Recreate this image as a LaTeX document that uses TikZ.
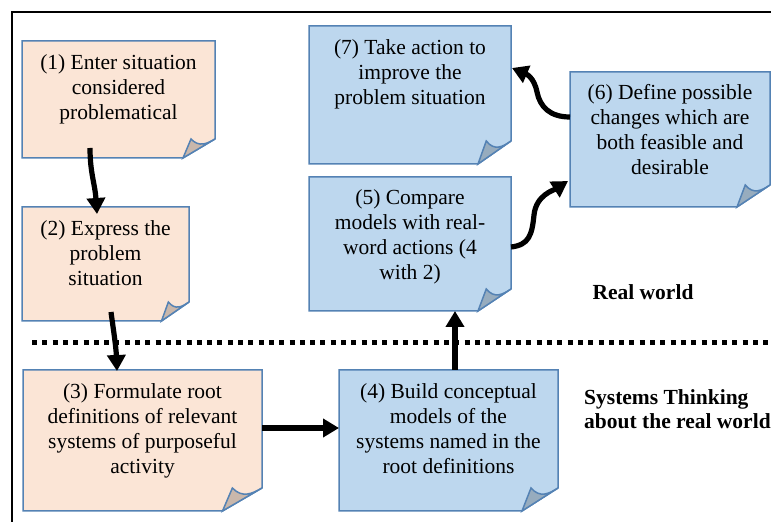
\documentclass[tikz,border=0pt]{standalone}
\usepackage{fontspec}
\setmainfont{Liberation Serif}
\usetikzlibrary{arrows.meta}

\definecolor{peach}{RGB}{251,229,214}
\definecolor{peachflap}{RGB}{201,183,171}
\definecolor{skyfill}{RGB}{189,215,238}
\definecolor{skyflap}{RGB}{151,172,190}
\definecolor{noteedge}{RGB}{84,130,180}

\tikzset{
  x=1pt, y=1pt,
  notearea/.style={inner sep=0pt, outer sep=0pt, minimum width=#1},
  noteline/.style={draw=noteedge, line width=1.5pt, line join=miter},
  notetext/.style={align=center, inner sep=0pt, anchor=north,
    font=\fontsize{21.5}{25}\selectfont},
  sidetext/.style={inner sep=0pt, font=\fontsize{21.5}{24}\selectfont\bfseries},
  flow/.style={line width=5.2pt, -{Triangle[width=18pt,length=16pt]}},
}

% sticky note with a folded bottom-right corner:
% #1 node, #2 fill, #3 flap fill, #4 fold width, #5 fold height
\newcommand\foldnote[5]{%
  \filldraw[noteline, fill=#2]
    (#1.north west) -- (#1.north east) -- ([yshift=#5]#1.south east)
    -- ([xshift=-#4]#1.south east) -- (#1.south west) -- cycle;
  \filldraw[noteline, fill=#3]
    ([xshift=-#4]#1.south east) -- ([shift={(-0.75*#4,#5)}]#1.south east)
    .. controls ([shift={(-0.5*#4,0.55*#5)}]#1.south east)
       and ([shift={(-0.25*#4,0.75*#5)}]#1.south east)
    .. ([yshift=#5]#1.south east) -- cycle;
}

\begin{document}
\begin{tikzpicture}
\useasboundingbox (0,0) rectangle (771,522);

% frame
\draw[line width=2pt] (12,0) -- (12,510) -- (771,510);

% note areas
\node[notearea=193pt, minimum height=117pt] (b1) at (118.5,422.5) {};
\node[notearea=167pt, minimum height=114pt] (b2) at (105.5,258) {};
\node[notearea=239pt, minimum height=141pt] (b3) at (142.5,81.5) {};
\node[notearea=219pt, minimum height=141pt] (b4) at (448.5,81.5) {};
\node[notearea=202pt, minimum height=134pt] (b5) at (410,278) {};
\node[notearea=200pt, minimum height=135pt] (b6) at (670,382.5) {};
\node[notearea=202pt, minimum height=138pt] (b7) at (410,427) {};

\foldnote{b1}{peach}{peachflap}{32}{19}
\foldnote{b2}{peach}{peachflap}{27.5}{19}
\foldnote{b3}{peach}{peachflap}{39.5}{23}
\foldnote{b4}{skyfill}{skyflap}{36}{23}
\foldnote{b5}{skyfill}{skyflap}{33}{22}
\foldnote{b6}{skyfill}{skyflap}{33}{22}
\foldnote{b7}{skyfill}{skyflap}{33}{23}

% note texts
\node[notetext] (t1) at ([yshift=-13.5pt]b1.north) {(1) Enter situation\\considered\\problematical};
\node[notetext] (t2) at ([yshift=-13pt]b2.north) {(2) Express the\\problem\\situation};
\node[notetext] (t3) at ([yshift=-13pt]b3.north) {(3) Formulate root\\definitions of relevant\\systems of purposeful\\activity};
\node[notetext] (t4) at ([yshift=-13pt]b4.north) {(4) Build conceptual\\models of the\\systems named in the\\root definitions};
\node[notetext] (t5) at ([yshift=-12.5pt]b5.north) {(5) Compare\\models with real-\\word actions (4\\with 2)};
\node[notetext] (t6) at ([yshift=-12.5pt]b6.north) {(6) Define possible\\changes which are\\both feasible and\\desirable};
\node[notetext] (t7) at ([yshift=-13pt]b7.north) {(7) Take action to\\improve the\\problem situation};

% boundary between the two worlds
\draw[line width=5pt, dash pattern=on 5pt off 5.3pt] (32,179) -- (771,179);

\node[sidetext] (rw) at (643,230) {Real world};
\node[sidetext, anchor=west, align=left] (st) at (584,113) {Systems Thinking\\about the real world};

% flow between the stages
\draw[flow] ([shift={(-28.5,10)}]b1.south) .. controls +(0,-25) and +(-2,30) .. ([shift={(-8.5,-7)}]b2.north);
\draw[flow] ([shift={(5.5,9)}]b2.south) .. controls +(2,-15) and +(-1,25) .. ([shift={(-25.5,-1)}]b3.north);
\draw[flow] ([yshift=12.5pt]b3.east) -- ([yshift=12.5pt]b4.west);
\draw[flow] ([xshift=6.5pt]b4.north) -- ([xshift=6.5pt]b4.north |- b5.south);
\draw[flow] ([yshift=-3pt]b5.east) .. controls +(18,2) and +(-2,-20) .. ++(23,32)
  .. controls +(2,20) and +(-14,-9) .. ([shift={(-2,-41.5)}]b6.west);
\draw[flow] ([yshift=22.5pt]b6.west) .. controls +(-20,0) and +(3,-15) .. ++(-33,25)
  .. controls +(-3,15) and +(14,-6) .. ([shift={(1,27)}]b7.east);
\end{tikzpicture}
\end{document}
